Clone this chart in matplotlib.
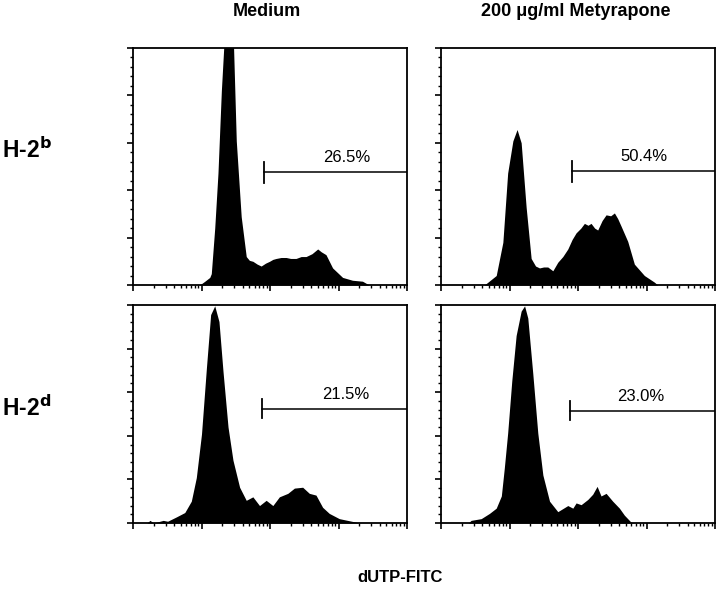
import matplotlib
matplotlib.use("Agg")
import matplotlib.pyplot as plt
from matplotlib.ticker import LogLocator, MultipleLocator, NullFormatter
import numpy as np

plt.rcParams['font.family'] = ['Liberation Sans', 'DejaVu Sans']

# fluorescence intensity (dUTP-FITC) and cell counts for each histogram
b_med_x = [9.4, 11.2, 13.2, 13.9, 15.6, 17.4, 19.5, 21.1, 24.9, 29.4, 32.2, 38.0, 45.0,
           50.0, 56.2, 65.0, 74.3, 86.0, 98.4, 110, 123, 145, 172, 200, 240, 285,
           336, 410, 497, 560, 656, 820, 1148, 1600, 2239, 2800]
b_med_y = [0, 4, 8, 12, 60, 118, 205, 250, 300, 250, 152, 72, 30,
           26, 25, 22, 20, 23, 25, 27, 28, 29, 29, 28, 28, 30,
           30, 33, 38, 35, 32, 18, 8, 5, 4, 0]

b_met_x = [4.3, 6.4, 8.0, 9.4, 11.2, 12.9, 14.8, 17.5, 20.7, 24.0, 27.4, 31.5, 36.2,
           42.9, 50.7, 60.0, 71.0, 82.0, 93.8, 110, 124, 140, 155, 175, 194, 225,
           257, 300, 340, 380, 426, 532, 665, 931, 1303, 1455]
b_met_y = [0, 10, 45, 118, 152, 164, 150, 82, 28, 20, 18, 19, 19,
           15, 24, 30, 38, 48, 55, 60, 65, 63, 65, 60, 58, 68,
           74, 73, 76, 70, 62, 46, 22, 10, 3, 0]

d_med_x = [1.6, 1.77, 2.0, 2.76, 3.2, 4.3, 5.7, 7.1, 8.4, 10.0, 11.8, 13.6, 15.6, 18.0,
           20.6, 24.4, 28.8, 36.0, 45.0, 56.2, 70.3, 87.9, 110, 137, 182, 227,
           300, 375, 469, 586, 733, 1026, 1791, 2004]
d_med_y = [0, 3, 0, 3, 2, 7, 12, 25, 52, 102, 178, 239, 249, 231,
           174, 110, 72, 41, 26, 30, 20, 26, 20, 30, 34, 40,
           41, 34, 32, 18, 11, 5, 1, 0]

d_met_x = [2.5, 2.75, 3.86, 5.1, 6.4, 7.6, 8.4, 9.4, 10.8, 12.5, 14.8, 16.6, 18.5, 21.9,
           25.9, 30.7, 38.4, 50.7, 71.0, 84.0, 93.8, 111, 139, 164, 190, 217,
           257, 321, 402, 475, 594, 665]
d_met_y = [0, 3, 5, 11, 17, 31, 63, 103, 163, 215, 243, 249, 235, 171,
           103, 55, 25, 13, 20, 17, 23, 21, 27, 33, 42, 31,
           34, 25, 17, 9, 1, 0]

col_titles = ["Medium", "200 \u03bcg/ml Metyrapone"]
row_titles = ["H-2$^{\\mathbf{b}}$", "H-2$^{\\mathbf{d}}$"]
gate_pct = ["26.5%", "50.4%", "21.5%", "23.0%"]
gate_start = [81, 82, 77, 77]
gate_level = [119, 120, 131, 129]
label_x = [1300, 930, 1280, 830]

series = [(b_med_x, b_med_y), (b_met_x, b_met_y), (d_med_x, d_med_y), (d_met_x, d_met_y)]

fig = plt.figure(figsize=(7.2, 5.94), dpi=100)

W, H = 720.0, 594.0
lefts = [133, 441]
rows = [(48, 285), (305, 523)]

for i, (xs, ys) in enumerate(series):
    r, c = divmod(i, 2)
    top, bot = rows[r]
    ax = fig.add_axes([lefts[c] / W, 1 - bot / H, 274 / W, (bot - top) / H])
    ax.fill_between(xs, ys, 0, color="black", lw=0)
    ax.set_xscale("log")
    ax.set_xlim(1, 10000)
    ax.set_ylim(0, 250)
    ax.xaxis.set_major_locator(LogLocator(base=10, numticks=10))
    ax.xaxis.set_minor_locator(LogLocator(base=10, subs=np.arange(2, 10), numticks=10))
    ax.xaxis.set_major_formatter(NullFormatter())
    ax.xaxis.set_minor_formatter(NullFormatter())
    ax.yaxis.set_major_locator(MultipleLocator(50))
    ax.yaxis.set_minor_locator(MultipleLocator(10))
    ax.yaxis.set_major_formatter(NullFormatter())
    ax.tick_params(which="major", direction="out", length=4, width=1.2)
    ax.tick_params(which="minor", direction="out", length=2.5, width=1)
    for s in ax.spines.values():
        s.set_linewidth(1.3)

    # gate marker
    ax.plot([gate_start[i], 10000], [gate_level[i], gate_level[i]], color="black", lw=1.1)
    ax.plot([gate_start[i], gate_start[i]], [gate_level[i] - 11, gate_level[i] + 11],
            color="black", lw=1.3)
    ax.text(label_x[i], gate_level[i] + 8, gate_pct[i], ha="center", va="bottom",
            fontsize=12)

fig.text(267 / W, 1 - 12 / H, col_titles[0], ha="center", va="center",
         fontsize=13, fontweight="bold")
fig.text(576 / W, 1 - 12 / H, col_titles[1], ha="center", va="center",
         fontsize=13, fontweight="bold")
fig.text(2 / W, 1 - 150 / H, row_titles[0], ha="left", va="center",
         fontsize=16.5, fontweight="bold")
fig.text(2 / W, 1 - 408 / H, row_titles[1], ha="left", va="center",
         fontsize=16.5, fontweight="bold")
fig.text(400 / W, 1 - 578 / H, "dUTP-FITC", ha="center", va="center",
         fontsize=12, fontweight="bold")

fig.savefig("out.png", dpi=100)
